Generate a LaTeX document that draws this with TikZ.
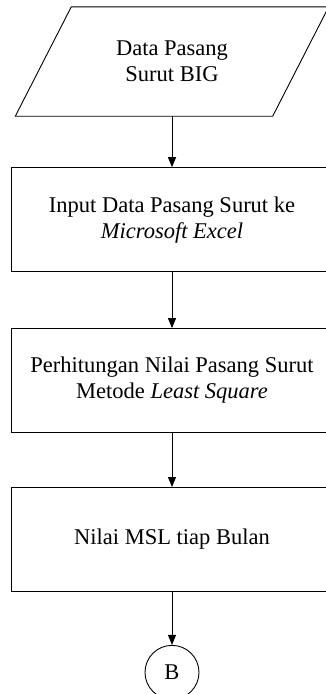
\documentclass[tikz,border=0pt]{standalone}
\usepackage{fontspec}
\setmainfont{Liberation Serif}
\usetikzlibrary{positioning,arrows.meta}

\begin{document}
\begin{tikzpicture}[x=1pt,y=1pt,
		font=\fontsize{22.5}{26}\selectfont,
		node distance=54pt,
		process/.style={draw, line width=0.9pt, minimum width=322pt, minimum height=104pt, align=center, inner sep=0pt},
		inputdata/.style={minimum width=257pt, minimum height=109pt, align=center, inner sep=0pt},
		connector/.style={draw, circle, line width=0.9pt, minimum size=54pt, inner sep=0pt},
		flow/.style={-{Triangle[width=8pt,length=10pt]}, line width=0.9pt}]
		
		\useasboundingbox (0,0) rectangle (325,-694);
		
		\node[inputdata] (Data) at (172,-61.5) {Data Pasang\\Surut BIG};
		% slanted sides of the data box
		\draw[line width=0.9pt] ([xshift=-28pt]Data.south west) -- ([xshift=-28pt]Data.south east)
			-- ([xshift=28pt]Data.north east) -- ([xshift=28pt]Data.north west) -- cycle;
		\node[process, below=51pt of Data] (Input) {Input Data Pasang Surut ke\\\textit{Microsoft Excel}};
		\node[process, below=56pt of Input] (Hitung) {Perhitungan Nilai Pasang Surut\\Metode \textit{Least Square}};
		\node[process, below=of Hitung] (MSL) {Nilai MSL tiap Bulan};
		\node[connector, below=53pt of MSL] (B) {B};
		
		\draw[flow] (Data) -- (Input);
		\draw[flow] (Input) -- (Hitung);
		\draw[flow] (Hitung) -- (MSL);
		\draw[flow] (MSL) -- (B);
		
		\end{tikzpicture}
\end{document}
